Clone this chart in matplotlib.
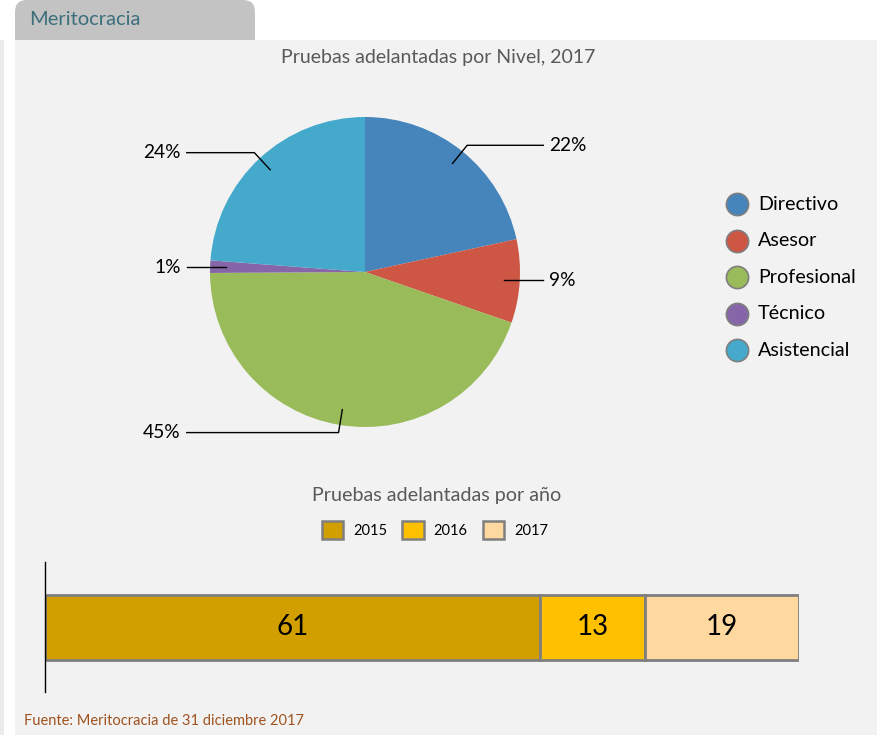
import numpy as np
import matplotlib
matplotlib.use("Agg")
import matplotlib.pyplot as plt
from matplotlib.patches import Rectangle, FancyBboxPatch, Patch
from matplotlib.lines import Line2D

plt.rcParams['font.family'] = ['Lato', 'DejaVu Sans']

# pie: pruebas adelantadas por nivel, 2017 (percent)
levels = ['Directivo', 'Asesor', 'Profesional', 'Técnico', 'Asistencial']
level_share = [21.6, 8.7, 44.6, 1.3, 23.8]
level_colors = ['#4585bb', '#cd5645', '#9abb59', '#8666a9', '#45a9cc']

# stacked bar: pruebas adelantadas por año
years = ['2015', '2016', '2017']
year_counts = [61, 13, 19]
year_colors = ['#d29f00', '#ffc000', '#ffd8a0']

W, H = 877, 735
fig = plt.figure(figsize=(W / 100, H / 100), dpi=100)
fig.patch.set_facecolor('white')


def fx(px):
    return px / W


def fy(py):
    return 1 - py / H


# background panel, tab and left strip, drawn in pixel coordinates
bg = fig.add_axes([0, 0, 1, 1], zorder=-1)
bg.set_xlim(0, W)
bg.set_ylim(H, 0)
bg.axis('off')
bg.add_patch(Rectangle((15, 40), W - 15, H - 40, facecolor='#f2f2f2', edgecolor='none'))
bg.add_patch(Rectangle((0, 40), 4, H - 40, facecolor='#ebebeb', edgecolor='none'))
bg.add_patch(FancyBboxPatch((15, 0), 240, 40, boxstyle='round,pad=0,rounding_size=12',
                            facecolor='#c3c3c3', edgecolor='none'))
bg.add_patch(Rectangle((15, 20), 240, 20, facecolor='#c3c3c3', edgecolor='none'))
bg.text(29, 19, 'Meritocracia', color='#3b6f7c', fontsize=14.5, va='center', ha='left')

# ---- pie ----
cx, cy, r = 365, 272, 155
aw, ah = 520, 350
ax = fig.add_axes([fx(cx - aw / 2), fy(cy + ah / 2), aw / W, ah / H])
ax.set_facecolor('none')
wedges, _ = ax.pie(level_share, colors=level_colors, startangle=90, counterclock=False,
                   radius=1, wedgeprops=dict(linewidth=0, edgecolor='none'))
ax.set_xlim(-aw / 2 / r, aw / 2 / r)
ax.set_ylim(-ah / 2 / r, ah / 2 / r)
ax.axis('off')

for w, val in zip(wedges, level_share):
    ang = np.deg2rad((w.theta1 + w.theta2) / 2)
    ca, sa = np.cos(ang), np.sin(ang)
    side = 1 if ca >= 0 else -1
    p0 = (0.9 * ca, 0.9 * sa)
    if abs(sa) < 0.2:
        p1 = (p0[0] + side * 0.05, p0[1])
    else:
        p1 = (1.05 * ca, 1.05 * sa)
    x_end = side * 1.15
    ax.plot([p0[0], p1[0], x_end], [p0[1], p1[1], p1[1]], color='black', lw=1,
            clip_on=False)
    ax.text(x_end + side * 0.04, p1[1], f'{round(val):d}%', fontsize=13.8,
            ha='left' if side > 0 else 'right', va='center', color='black')

fig.text(fx(438), fy(57), 'Pruebas adelantadas por Nivel, 2017', fontsize=14,
         color='#595959', ha='center', va='center')

# pie legend
for i, (name, col) in enumerate(zip(levels, level_colors)):
    yy = fy(204 + i * 36.6)
    fig.add_artist(Line2D([fx(737)], [yy], marker='o', markersize=16, markerfacecolor=col,
                          markeredgecolor='#7f7f7f', markeredgewidth=1.2, linestyle='none',
                          transform=fig.transFigure))
    fig.text(fx(758), yy, name, fontsize=14.2, ha='left', va='center', color='black')

# ---- stacked bar ----
bx = fig.add_axes([fx(45), fy(692), 754 / W, 130 / H])
bx.set_facecolor('none')
left = 0
for yr, cnt, col in zip(years, year_counts, year_colors):
    bx.barh(0, cnt, left=left, height=1.0, color=col, edgecolor='#7f7f7f', linewidth=2)
    bx.text(left + cnt / 2, 0, str(cnt), ha='center', va='center', fontsize=20,
            color='black')
    left += cnt
bx.set_xlim(0, sum(year_counts))
bx.set_ylim(-1, 1)
for s in ['top', 'right', 'bottom']:
    bx.spines[s].set_visible(False)
bx.spines['left'].set_color('black')
bx.spines['left'].set_linewidth(1)
bx.set_xticks([])
bx.set_yticks([])

fig.text(fx(437), fy(496), 'Pruebas adelantadas por año', fontsize=14.2,
         color='#595959', ha='center', va='center')
handles = [Patch(facecolor=c, edgecolor='#7f7f7f', linewidth=1.8, label=y)
           for y, c in zip(years, year_colors)]
fig.legend(handles=handles, loc='center', bbox_to_anchor=(fx(435), fy(530)), ncol=3,
           frameon=False, fontsize=10.5, handlelength=1.45, handleheight=1.45,
           handletextpad=0.7, columnspacing=1.05)

fig.text(fx(24), fy(721), 'Fuente: Meritocracia de 31 diciembre 2017', fontsize=10.5,
         color='#a0521e', ha='left', va='center')

fig.savefig('out.png', dpi=100, facecolor=fig.get_facecolor())
